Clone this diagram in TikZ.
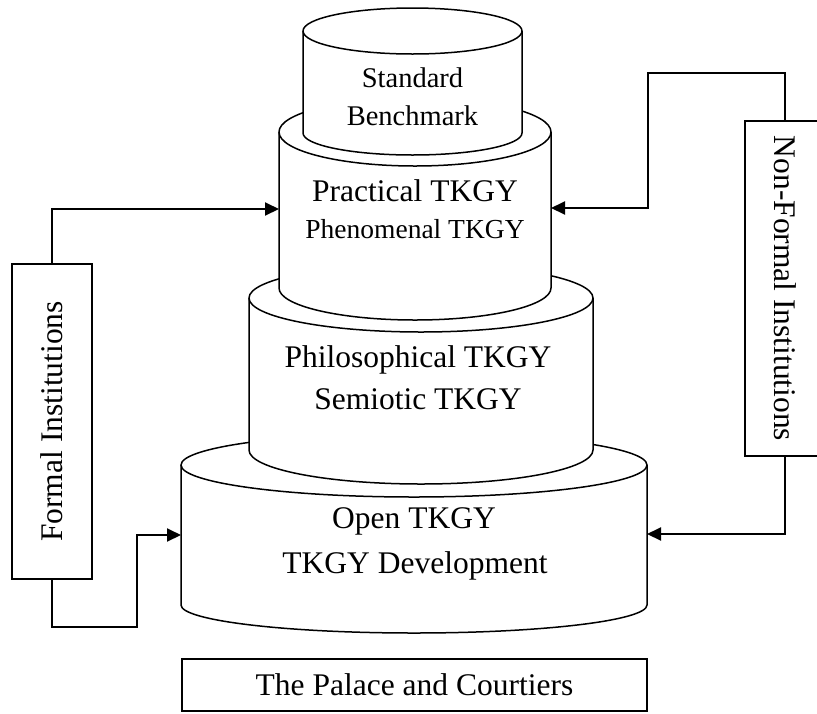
\documentclass[tikz,border=0pt]{standalone}
\usepackage{fontspec}
\usepackage{graphicx}
\setmainfont{Liberation Serif}
\usetikzlibrary{arrows.meta}
\tikzset{
  canstyle/.style={draw=black, fill=white, line width=1.5pt, line join=round},
  boxstyle/.style={draw=black, fill=white, line width=1.4pt, inner sep=0pt},
  conn/.style={draw=black, line width=2pt, -{Triangle[length=14pt,width=13pt]}},
  plain/.style={draw=black, line width=2pt},
  txt/.style={font=\fontsize{31.5pt}{37pt}\selectfont, anchor=base, inner sep=0pt},
  smalltxt/.style={font=\fontsize{28.5pt}{34pt}\selectfont, anchor=base, inner sep=0pt},
  phentxt/.style={font=\fontsize{27.5pt}{33pt}\selectfont, anchor=base, inner sep=0pt}
}
\newcommand\drawcan[6]{%
  \pgfmathsetmacro\canrx{(#2-#1)/2}%
  \draw[canstyle] (#1,#3) -- (#1,#5)
     arc[start angle=180,end angle=360,x radius=\canrx pt,y radius=#6pt]
     -- (#2,#3)
     arc[start angle=0,end angle=180,x radius=\canrx pt,y radius=#4pt] -- cycle;
  \draw[canstyle, fill=none] (#1,#3)
     arc[start angle=180,end angle=360,x radius=\canrx pt,y radius=#4pt];
}
\begin{document}
\begin{tikzpicture}[x=1pt,y=-1pt]
\useasboundingbox (0,0) rectangle (817,713);
\clip (0,0) rectangle (817,713);

% cylinders, bottom first
\drawcan{181}{647}{465}{32}{605}{28}
\drawcan{249}{593}{298}{34}{450}{34}
\drawcan{279}{551}{132}{34}{288}{32}
\drawcan{303}{522}{31}{23}{133}{22}

% texts
\node[smalltxt] (std) at (412.5,87) {Standard};
\node[smalltxt] (bench) at (412.5,125) {Benchmark};
\node[txt] (prac) at (415,201) {Practical TKGY};
\node[phentxt] (phen) at (415,238) {Phenomenal TKGY};
\node[txt] (phil) at (418,367) {Philosophical TKGY};
\node[txt] (semi) at (418,409) {Semiotic TKGY};
\node[txt] (open) at (414,528) {Open TKGY};
\node[txt] (dev) at (415,573) {TKGY Development};

% side boxes
\node[boxstyle, minimum width=80pt, minimum height=315pt] (formal) at (52,421.5)
  {\fontsize{31.5pt}{37pt}\selectfont\rotatebox{90}{Formal Institutions}};
\node[boxstyle, minimum width=80pt, minimum height=335pt] (nonformal) at (785,288.5)
  {\fontsize{31.5pt}{37pt}\selectfont\rotatebox{-90}{Non-Formal Institutions}};

% bottom box
\node[boxstyle, minimum width=465pt, minimum height=52pt,
      font=\fontsize{31.5pt}{37pt}\selectfont] (palace) at (414.5,685) {The Palace and Courtiers};

% connector end points on the cylinders
\coordinate (p2l) at (279,209);
\coordinate (p2r) at (551,208);
\coordinate (p4l) at (181,535);
\coordinate (p4r) at (647,534);
\coordinate (fb1) at (137,627);
\coordinate (nb1) at (648,73);

\draw[conn] (formal.north) |- (p2l);
\draw[conn] (formal.south) |- (fb1) |- (p4l);
\draw[conn] (nonformal.north) |- (nb1) |- (p2r);
\draw[conn] (nonformal.south) |- (p4r);
\end{tikzpicture}
\end{document}
